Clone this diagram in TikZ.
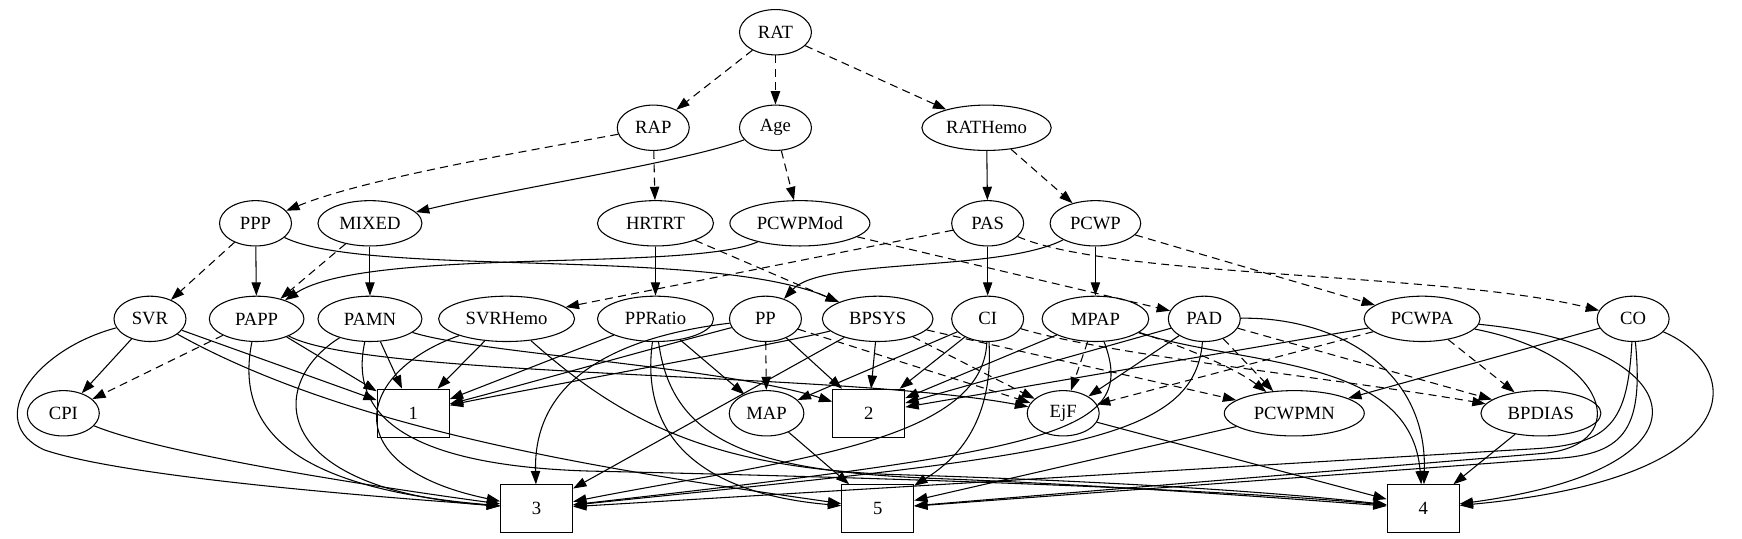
\documentclass[tikz,border=0pt]{standalone}
\usepackage{fontspec}
\setmainfont{Liberation Serif}
\usetikzlibrary{arrows.meta,shapes.geometric}
\tikzset{
  gnode/.style={draw, ellipse, line width=0.8pt, inner sep=1pt, minimum height=34pt, minimum width=54pt, font=\fontsize{14}{16}\selectfont},
  gbox/.style={draw, rectangle, line width=0.8pt, inner sep=1pt, minimum height=36pt, minimum width=54pt, font=\fontsize{14}{16}\selectfont},
  ed/.style={-{Triangle[length=10pt,width=7pt]}, line width=0.8pt},
  dd/.style={ed, dash pattern=on 6pt off 4pt},
}
\begin{document}
\begin{tikzpicture}[x=0.8333pt, y=-0.8333pt]
\useasboundingbox (0,0) rectangle (1568,485);
% rank 0
\node[gnode] (rat) at (698,29) {RAT};
% rank 1
\node[gnode] (rap) at (588,115) {RAP};
\node[gnode] (age) at (698,115) {Age};
\node[gnode, minimum width=97pt] (rathemo) at (888,115) {RATHemo};
% rank 2
\node[gnode] (ppp) at (230,201) {PPP};
\node[gnode, minimum width=78pt] (mixed) at (333,201) {MIXED};
\node[gnode, minimum width=87pt] (hrtrt) at (590,201) {HRTRT};
\node[gnode, minimum width=105pt] (pcwpmod) at (720,201) {PCWPMod};
\node[gnode] (pas) at (889,201) {PAS};
\node[gnode, minimum width=68pt] (pcwp) at (986,201) {PCWP};
% rank 3
\node[gnode] (svr) at (135,287) {SVR};
\node[gnode, minimum width=71pt] (papp) at (231,287) {PAPP};
\node[gnode, minimum width=78pt] (pamn) at (333,287) {PAMN};
\node[gnode, minimum width=102pt] (svrhemo) at (456,287) {SVRHemo};
\node[gnode, minimum width=87pt] (ppratio) at (590,287) {PPRatio};
\node[gnode] (pp) at (689,287) {PP};
\node[gnode, minimum width=83pt] (bpsys) at (790,287) {BPSYS};
\node[gnode] (ci) at (889,287) {CI};
\node[gnode, minimum width=80pt] (mpap) at (986,287) {MPAP};
\node[gnode] (pad) at (1084,287) {PAD};
\node[gnode, minimum width=87pt] (pcwpa) at (1280,287) {PCWPA};
\node[gnode] (co) at (1470,287) {CO};
% rank 4
\node[gnode] (cpi) at (57,372) {CPI};
\node[gbox] (b1) at (372,372) {1};
\node[gnode, minimum width=56pt] (map) at (690,372) {MAP};
\node[gbox] (b2) at (782,372) {2};
\node[gnode] (ejf) at (957,372) {EjF};
\node[gnode, minimum width=105pt] (pcwpmn) at (1165,372) {PCWPMN};
\node[gnode, minimum width=90pt] (bpdias) at (1387,372) {BPDIAS};
% rank 5
\node[gbox] (b3) at (483,458) {3};
\node[gbox] (b5) at (790,458) {5};
\node[gbox] (b4) at (1281,458) {4};

% top ranks
\draw[dd] (rat) -- (rap);
\draw[dd] (rat) -- (age);
\draw[dd] (rat) -- (rathemo);
\draw[dd] (rap) .. controls (480,135) and (330,160) .. (ppp);
\draw[dd] (rap) -- (hrtrt);
\draw[ed] (age) .. controls (620,145) and (460,170) .. (mixed);
\draw[dd] (age) -- (pcwpmod);
\draw[ed] (rathemo) -- (pas);
\draw[dd] (rathemo) -- (pcwp);
% rank 2 out
\draw[dd] (ppp) -- (svr);
\draw[ed] (ppp) -- (papp);
\draw[ed] (ppp) .. controls (330,250) and (640,222) .. (bpsys);
\draw[dd] (mixed) -- (papp);
\draw[ed] (mixed) -- (pamn);
\draw[ed] (hrtrt) -- (ppratio);
\draw[dd] (hrtrt) -- (bpsys);
\draw[ed] (pcwpmod) .. controls (620,245) and (330,222) .. (papp);
\draw[dd] (pcwpmod) -- (pad);
\draw[dd] (pas) -- (svrhemo);
\draw[ed] (pas) -- (ci);
\draw[dd] (pas) .. controls (1000,250) and (1300,245) .. (co);
\draw[ed] (pcwp) .. controls (900,245) and (740,232) .. (pp);
\draw[ed] (pcwp) -- (mpap);
\draw[dd] (pcwp) -- (pcwpa);
% rank 3 out
\draw[ed] (svr) -- (cpi);
\draw[ed] (svr) -- (b1);
\draw[ed] (svr) .. controls (320,390) and (560,425) .. (b5);
\draw[ed] (svr) .. controls (30,315) and (-15,380) .. (40,405) .. controls (120,432) and (380,450) .. (b3);
\draw[dd] (papp) -- (cpi);
\draw[ed] (papp) -- (b1);
\draw[ed] (papp) .. controls (210,390) and (270,440) .. (b3);
\draw[ed] (papp) .. controls (330,340) and (760,335) .. (ejf);
\draw[ed] (pamn) -- (b1);
\draw[ed] (pamn) .. controls (240,345) and (240,440) .. (b3);
\draw[ed] (pamn) .. controls (430,318) and (650,330) .. (b2);
\draw[ed] (pamn) .. controls (310,390) and (400,420) .. (530,424) .. controls (800,430) and (1100,440) .. (b4);
\draw[ed] (svrhemo) -- (b1);
\draw[ed] (svrhemo) .. controls (320,335) and (300,420) .. (b3);
\draw[ed] (svrhemo) .. controls (560,380) and (640,420) .. (800,427) .. controls (1000,433) and (1150,443) .. (b4);
\draw[ed] (ppratio) -- (b1);
\draw[ed] (ppratio) -- (map);
\draw[ed] (ppratio) .. controls (575,400) and (640,445) .. (b5);
\draw[ed] (ppratio) .. controls (605,400) and (680,425) .. (850,431) .. controls (1000,437) and (1150,448) .. (b4);
\draw[dd] (pp) -- (map);
\draw[ed] (pp) -- (b2);
\draw[ed] (pp) .. controls (600,310) and (450,352) .. (b1);
\draw[ed] (pp) .. controls (540,305) and (480,350) .. (b3);
\draw[dd] (pp) -- (ejf);
\draw[ed] (bpsys) .. controls (700,310) and (450,355) .. (b1);
\draw[ed] (bpsys) -- (b2);
\draw[ed] (bpsys) -- (b3);
\draw[dd] (bpsys) -- (ejf);
\draw[dd] (bpsys) -- (pcwpmn);
\draw[ed] (ci) -- (map);
\draw[ed] (ci) -- (b2);
\draw[ed] (ci) .. controls (885,400) and (700,415) .. (b3);
\draw[ed] (ci) .. controls (895,390) and (850,420) .. (b5);
\draw[dd] (ci) .. controls (1000,320) and (1200,340) .. (bpdias);
\draw[ed] (mpap) -- (b2);
\draw[dd] (mpap) -- (ejf);
\draw[dd] (mpap) .. controls (1060,310) and (1110,330) .. (pcwpmn);
\draw[ed] (mpap) .. controls (1025,390) and (950,405) .. (b3);
\draw[ed] (mpap) .. controls (1120,330) and (1270,320) .. (b4);
\draw[ed] (pad) -- (b2);
\draw[ed] (pad) -- (ejf);
\draw[dd] (pad) -- (pcwpmn);
\draw[dd] (pad) -- (bpdias);
\draw[ed] (pad) .. controls (1200,285) and (1285,330) .. (b4);
\draw[ed] (pad) .. controls (1075,400) and (950,410) .. (b3);
\draw[ed] (pcwpa) -- (b2);
\draw[dd] (pcwpa) -- (ejf);
\draw[dd] (pcwpa) -- (bpdias);
\draw[ed] (pcwpa) .. controls (1450,320) and (1470,400) .. (1390,408) -- (b5);
\draw[ed] (pcwpa) .. controls (1520,310) and (1560,420) .. (b4);
\draw[ed] (co) -- (pcwpmn);
\draw[ed] (co) .. controls (1465,380) and (1450,400) .. (1380,404) -- (b3);
\draw[ed] (co) .. controls (1480,390) and (1460,410) .. (1395,413) -- (b5);
\draw[ed] (co) .. controls (1570,330) and (1580,430) .. (b4);
% rank 4 out
\draw[ed] (cpi) .. controls (150,410) and (350,440) .. (b3);
\draw[ed] (map) -- (b5);
\draw[ed] (ejf) -- (b4);
\draw[ed] (pcwpmn) -- (b5);
\draw[ed] (bpdias) -- (b4);
\end{tikzpicture}
\end{document}
